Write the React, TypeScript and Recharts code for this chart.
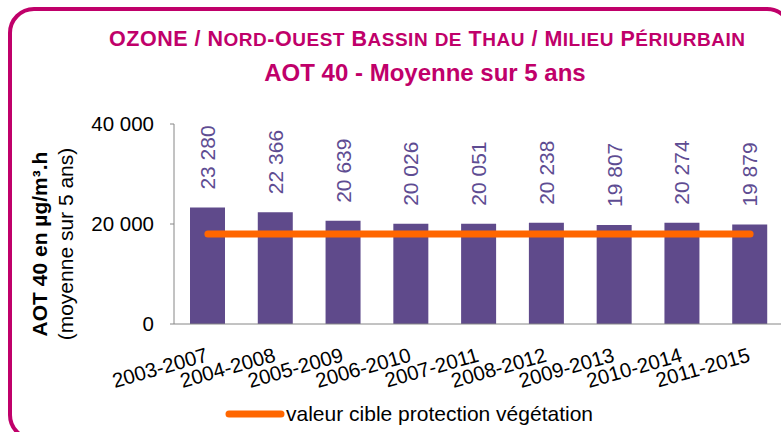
import React from 'react';
import { ComposedChart, Bar, Line, XAxis, YAxis, LabelList, Legend } from 'recharts';

const categories = ['2003-2007', '2004-2008', '2005-2009', '2006-2010', '2007-2011', '2008-2012', '2009-2013', '2010-2014', '2011-2015'];
const aot40Values = [23280, 22366, 20639, 20026, 20051, 20238, 19807, 20274, 19879];
const targetValues = [18000, 18000, 18000, 18000, 18000, 18000, 18000, 18000, 18000];
const yTicks = [0, 20000, 40000];

const titleLine1 = 'OZONE / Nord-Ouest Bassin de Thau / Milieu Périurbain';
const titleLine2 = 'AOT 40 - Moyenne sur 5 ans';
const yLabelBold = 'AOT 40 en µg/m³.h';
const yLabelSub = '(moyenne sur 5 ans)';
const legendLabel = 'valeur cible protection végétation';

const data = categories.map((c, i) => ({ period: c, aot: aot40Values[i], cible: targetValues[i] }));

const FONT = '"Liberation Sans", Arial, Helvetica, sans-serif';
const MAGENTA = '#C0006A';
const PURPLE = '#5F4A8B';
const LABEL_PURPLE = '#5E4C92';
const ORANGE = '#FF6600';

const fmt = (v: number) => String(v).replace(/\B(?=(\d{3})+(?!\d))/g, ' ');

// split text into small-caps runs
const smallCapsRuns = (s: string) => {
  const runs: { small: boolean; text: string }[] = [];
  for (const ch of s) {
    const small = ch !== ch.toUpperCase();
    const last = runs[runs.length - 1];
    if (last && last.small === small) last.text += ch;
    else runs.push({ small, text: ch });
  }
  return runs;
};

const XTick = (props: any) => {
  const { x, y, payload } = props;
  return (
    <text
      transform={`translate(${x + 1},${y + 29}) rotate(-16)`}
      textAnchor="end"
      fontSize={20.5}
      fontFamily={FONT}
      fill="#000"
    >
      {payload.value}
    </text>
  );
};

const BarValueLabel = (props: any) => {
  const { x, y, width, value } = props;
  return (
    <text
      transform={`translate(${x + width / 2},${y - 18}) rotate(-90)`}
      textAnchor="start"
      dominantBaseline="central"
      fontSize={21}
      fontFamily={FONT}
      fill={LABEL_PURPLE}
    >
      {fmt(value)}
    </text>
  );
};

const YLabel = () => (
  <g fontFamily={FONT} fill="#000">
    <text transform="translate(47,244) rotate(-90)" textAnchor="middle" fontSize={21} fontWeight="bold">
      {yLabelBold}
    </text>
    <text transform="translate(73,244) rotate(-90)" textAnchor="middle" fontSize={21}>
      {yLabelSub}
    </text>
  </g>
);

const LegendContent = () => (
  <svg width={781} height={40} style={{ display: 'block' }}>
    <line x1={229} y1={19} x2={281} y2={19} stroke={ORANGE} strokeWidth={7} strokeLinecap="round" />
    <text x={286} y={26} fontSize={21} fontFamily={FONT} fill="#000">
      {legendLabel}
    </text>
  </svg>
);

export default function App() {
  return (
    <div style={{ position: 'absolute', left: 0, top: 0, width: 781, height: 432, overflow: 'hidden', background: '#fff' }}>
      <div
        style={{
          position: 'absolute',
          left: 8,
          top: 7,
          width: 785,
          height: 434,
          boxSizing: 'border-box',
          border: `4px solid ${MAGENTA}`,
          borderRadius: 26,
        }}
      />
      <svg width={781} height={100} style={{ position: 'absolute', left: 0, top: 0 }}>
        <text
          x={427}
          y={46}
          textAnchor="middle"
          fontWeight="bold"
          fontFamily={FONT}
          fill={MAGENTA}
          textLength={636}
          lengthAdjust="spacing"
        >
          {smallCapsRuns(titleLine1).map((r, i) => (
            <tspan key={i} fontSize={r.small ? 19 : 21.5}>
              {r.small ? r.text.toUpperCase() : r.text}
            </tspan>
          ))}
        </text>
        <text x={425} y={81} textAnchor="middle" fontSize={24} fontWeight="bold" fontFamily={FONT} fill={MAGENTA}>
          {titleLine2}
        </text>
      </svg>
      <div style={{ position: 'absolute', left: 0, top: 0 }}>
        <ComposedChart width={790} height={432} data={data} margin={{ top: 124, right: 6, left: 94, bottom: 48 }}>
          <XAxis
            dataKey="period"
            stroke="#868686"
            tickLine={false}
            height={60}
            interval={0}
            tick={<XTick />}
          />
          <YAxis
            domain={[0, 40000]}
            ticks={yTicks}
            width={80}
            stroke="#868686"
            tickSize={4}
            tickMargin={16}
            tickFormatter={fmt}
            tick={{ fill: '#000', fontSize: 20.5, fontFamily: FONT }}
            label={{ content: () => <YLabel /> }}
          />
          <Bar dataKey="aot" fill={PURPLE} barSize={35} isAnimationActive={false} legendType="none">
            <LabelList dataKey="aot" content={<BarValueLabel />} />
          </Bar>
          <Line
            dataKey="cible"
            stroke={ORANGE}
            strokeWidth={7}
            strokeLinecap="round"
            dot={false}
            activeDot={false}
            isAnimationActive={false}
          />
          <Legend
            layout="horizontal"
            verticalAlign="middle"
            align="center"
            content={<LegendContent />}
            wrapperStyle={{ position: 'absolute', left: 0, top: 395, width: 781 }}
          />
        </ComposedChart>
      </div>
    </div>
  );
}
